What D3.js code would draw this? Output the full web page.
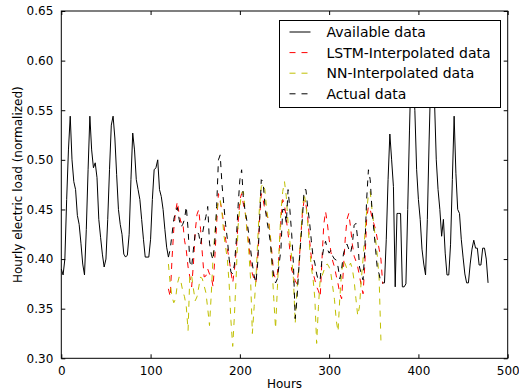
<!DOCTYPE html>
<html>
<head>
<meta charset="utf-8">
<script src="https://cdn.jsdelivr.net/npm/d3@7"></script>
<style>
  body { margin: 0; background: #fff; }
  text { font-family: "DejaVu Sans", sans-serif; fill: #000; }
</style>
</head>
<body>
<div id="chart"></div>
<script>
// hours are sampled every 2h
const step = 2;

// available data, hours 0..120
const availStart = 0;
const availA = [0.39, 0.384, 0.40, 0.46, 0.51, 0.544, 0.50, 0.478, 0.47, 0.444, 0.435, 0.416, 0.395,
  0.384, 0.43, 0.49, 0.544, 0.51, 0.492, 0.497, 0.482, 0.44, 0.422, 0.405, 0.392, 0.40, 0.44, 0.49,
  0.535, 0.544, 0.522, 0.485, 0.45, 0.435, 0.425, 0.405, 0.402, 0.404, 0.425, 0.48, 0.527, 0.51,
  0.48, 0.47, 0.46, 0.44, 0.42, 0.402, 0.402, 0.402, 0.42, 0.46, 0.49, 0.492, 0.50, 0.47, 0.463,
  0.45, 0.43, 0.412, 0.402];

// available data, hours 360..478
const availBStart = 360;
const availB = [0.376, 0.376, 0.42, 0.48, 0.526, 0.50, 0.473, 0.372, 0.446, 0.446, 0.446, 0.372,
  0.372, 0.375, 0.45, 0.53, 0.60, 0.58, 0.55, 0.49, 0.46, 0.44, 0.41, 0.395, 0.384, 0.44, 0.52,
  0.59, 0.61, 0.56, 0.50, 0.47, 0.45, 0.423, 0.44, 0.406, 0.384, 0.384, 0.415, 0.48, 0.544, 0.486,
  0.45, 0.446, 0.42, 0.402, 0.385, 0.376, 0.376, 0.395, 0.41, 0.419, 0.411, 0.411, 0.394, 0.394,
  0.411, 0.411, 0.40, 0.376];

// gap, hours 120..360
const gapStart = 120;
const lstm = [0.37, 0.362, 0.40, 0.43, 0.448, 0.458, 0.445, 0.437, 0.438, 0.419, 0.409, 0.392, 0.382,
  0.372, 0.395, 0.428, 0.445, 0.45, 0.43, 0.405, 0.382, 0.383, 0.39, 0.385, 0.382, 0.372, 0.402,
  0.436, 0.466, 0.458, 0.448, 0.435, 0.42, 0.41, 0.40, 0.387, 0.376, 0.39, 0.409, 0.436, 0.46, 0.466,
  0.455, 0.447, 0.43, 0.415, 0.398, 0.385, 0.38, 0.376, 0.402, 0.44, 0.466, 0.46, 0.45, 0.445, 0.44,
  0.425, 0.405, 0.385, 0.38, 0.385, 0.405, 0.44, 0.46, 0.455, 0.44, 0.426, 0.409, 0.389, 0.385,
  0.378, 0.375, 0.39, 0.42, 0.445, 0.46, 0.455, 0.442, 0.42, 0.402, 0.386, 0.379, 0.372, 0.368,
  0.362, 0.40, 0.435, 0.448, 0.436, 0.42, 0.407, 0.398, 0.392, 0.383, 0.375, 0.365, 0.36, 0.39,
  0.42, 0.44, 0.446, 0.432, 0.415, 0.403, 0.398, 0.392, 0.383, 0.373, 0.365, 0.395, 0.44, 0.453,
  0.45, 0.442, 0.436, 0.43, 0.42, 0.41, 0.40, 0.375];
const nn = [0.395, 0.375, 0.362, 0.356, 0.36, 0.375, 0.382, 0.377, 0.368, 0.362, 0.352, 0.328, 0.385,
  0.383, 0.37, 0.358, 0.362, 0.372, 0.382, 0.38, 0.373, 0.366, 0.35, 0.333, 0.365, 0.402, 0.426,
  0.446, 0.46, 0.46, 0.447, 0.425, 0.412, 0.40, 0.375, 0.338, 0.312, 0.345, 0.385, 0.433, 0.453,
  0.467, 0.468, 0.448, 0.428, 0.408, 0.38, 0.325, 0.352, 0.38, 0.419, 0.453, 0.473, 0.476, 0.47,
  0.45, 0.438, 0.425, 0.392, 0.36, 0.33, 0.37, 0.41, 0.448, 0.468, 0.478, 0.463, 0.436, 0.418,
  0.402, 0.38, 0.335, 0.37, 0.39, 0.42, 0.45, 0.466, 0.455, 0.436, 0.414, 0.392, 0.38, 0.36, 0.315,
  0.352, 0.38, 0.383, 0.388, 0.394, 0.395, 0.392, 0.385, 0.372, 0.359, 0.338, 0.327, 0.362, 0.387,
  0.399, 0.395, 0.39, 0.392, 0.396, 0.39, 0.378, 0.36, 0.343, 0.352, 0.379, 0.40, 0.425, 0.448,
  0.465, 0.468, 0.45, 0.435, 0.42, 0.403, 0.38, 0.318];
const actual = [0.402, 0.41, 0.425, 0.44, 0.448, 0.452, 0.44, 0.432, 0.435, 0.44, 0.453, 0.43, 0.397,
  0.392, 0.41, 0.426, 0.428, 0.425, 0.415, 0.425, 0.435, 0.443, 0.453, 0.416, 0.405, 0.399, 0.419,
  0.453, 0.50, 0.505, 0.475, 0.455, 0.435, 0.42, 0.40, 0.387, 0.385, 0.395, 0.419, 0.453, 0.48, 0.49,
  0.46, 0.448, 0.438, 0.425, 0.41, 0.395, 0.383, 0.376, 0.396, 0.436, 0.48, 0.478, 0.455, 0.44,
  0.43, 0.418, 0.398, 0.38, 0.376, 0.38, 0.395, 0.41, 0.45, 0.45, 0.436, 0.47, 0.45, 0.426, 0.395,
  0.34, 0.36, 0.39, 0.415, 0.44, 0.47, 0.47, 0.452, 0.438, 0.419, 0.402, 0.396, 0.385, 0.378, 0.38,
  0.40, 0.412, 0.418, 0.41, 0.406, 0.409, 0.403, 0.40, 0.399, 0.392, 0.38, 0.39, 0.405, 0.412, 0.415,
  0.41, 0.406, 0.415, 0.434, 0.436, 0.42, 0.392, 0.385, 0.379, 0.41, 0.46, 0.49, 0.48, 0.45, 0.43,
  0.41, 0.39, 0.385, 0.376, 0.376];

const xTicks = [0, 100, 200, 300, 400, 500];
const yTicks = [0.30, 0.35, 0.40, 0.45, 0.50, 0.55, 0.60, 0.65];

const seriesNames = ["Available data", "LSTM-Interpolated data", "NN-Interpolated data", "Actual data"];
const seriesColors = ["#000000", "#ff0000", "#bfbf00", "#000000"];
const seriesDash = [null, "6,6", "6,6", "6,6"];

const width = 519, height = 391;
const margin = {top: 11, right: 11.3, bottom: 32.7, left: 61.3};

const svg = d3.select("#chart").append("svg")
  .attr("width", width)
  .attr("height", height);

const x = d3.scaleLinear().domain([0, 500]).range([margin.left, width - margin.right]);
const y = d3.scaleLinear().domain([0.30, 0.65]).range([height - margin.bottom, margin.top]);

const toPoints = (arr, start) => arr.map((v, i) => [start + i * step, v]);

const line = d3.line().x(d => x(d[0])).y(d => y(d[1]));

const plot = svg.append("g");

const lines = [
  {pts: toPoints(availA, availStart), k: 0},
  {pts: toPoints(availB, availBStart), k: 0},
  {pts: toPoints(lstm, gapStart), k: 1},
  {pts: toPoints(nn, gapStart), k: 2},
  {pts: toPoints(actual, gapStart), k: 3}
];

lines.forEach(l => {
  plot.append("path")
    .attr("d", line(l.pts))
    .attr("fill", "none")
    .attr("stroke", seriesColors[l.k])
    .attr("stroke-width", 1)
    .attr("stroke-dasharray", seriesDash[l.k]);
});

// ticks, inward on all sides
const tickLen = 4;
const axisBottom = d3.axisBottom(x).tickValues(xTicks).tickSizeInner(-tickLen).tickSizeOuter(0).tickPadding(8);
const axisTop = d3.axisTop(x).tickValues(xTicks).tickSizeInner(-tickLen).tickSizeOuter(0).tickFormat("");
const axisLeft = d3.axisLeft(y).tickValues(yTicks).tickSizeInner(-tickLen).tickSizeOuter(0)
  .tickPadding(8).tickFormat(d3.format(".2f"));
const axisRight = d3.axisRight(y).tickValues(yTicks).tickSizeInner(-tickLen).tickSizeOuter(0).tickFormat("");

svg.append("g").attr("transform", `translate(0,${height - margin.bottom})`).call(axisBottom);
svg.append("g").attr("transform", `translate(0,${margin.top})`).call(axisTop);
svg.append("g").attr("transform", `translate(${margin.left},0)`).call(axisLeft);
svg.append("g").attr("transform", `translate(${width - margin.right},0)`).call(axisRight);

svg.selectAll(".domain").remove();
svg.selectAll(".tick line").attr("stroke", "#000");
svg.selectAll(".tick text").style("font-size", "12px").style("font-family", "DejaVu Sans");

svg.append("rect")
  .attr("x", margin.left)
  .attr("y", margin.top)
  .attr("width", width - margin.left - margin.right)
  .attr("height", height - margin.top - margin.bottom)
  .attr("fill", "none")
  .attr("stroke", "#000")
  .attr("stroke-width", 1);

// labels
svg.append("text")
  .attr("x", (margin.left + width - margin.right) / 2)
  .attr("y", 388)
  .attr("text-anchor", "middle")
  .style("font-size", "12px")
  .text("Hours");

svg.append("text")
  .attr("transform", `translate(22,${(margin.top + height - margin.bottom) / 2}) rotate(-90)`)
  .attr("text-anchor", "middle")
  .style("font-size", "12px")
  .text("Hourly electric load (normalized)");

// legend
const lg = svg.append("g").attr("transform", "translate(279.5,20.5)");
lg.append("rect")
  .attr("width", 221)
  .attr("height", 87)
  .attr("fill", "#fff")
  .attr("stroke", "#000");

seriesNames.forEach((name, i) => {
  const ly = 11.5 + i * 20.6;
  lg.append("line")
    .attr("x1", 10).attr("x2", 31)
    .attr("y1", ly).attr("y2", ly)
    .attr("stroke", seriesColors[i])
    .attr("stroke-dasharray", seriesDash[i]);
  lg.append("text")
    .attr("x", 47)
    .attr("y", ly + 5)
    .style("font-size", "14px")
    .text(name);
});
</script>
</body>
</html>
